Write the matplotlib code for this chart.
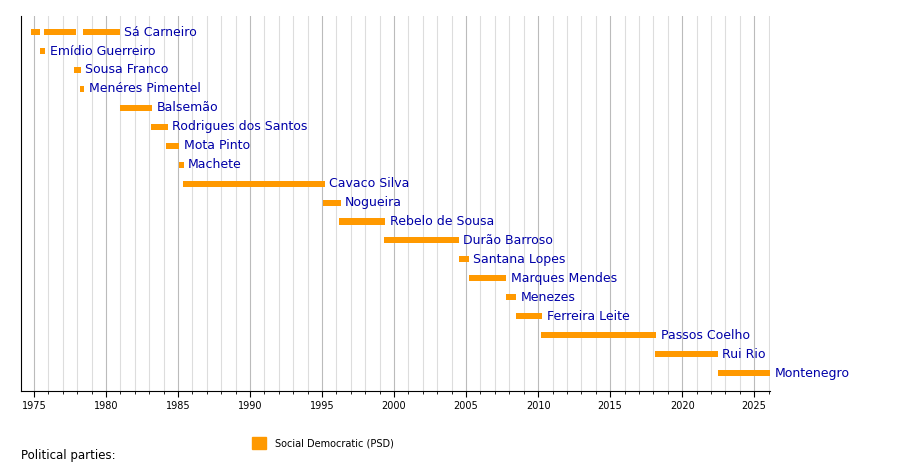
import matplotlib
matplotlib.use("Agg")
import matplotlib.pyplot as plt
from matplotlib.patches import Rectangle

names = ["Sá Carneiro", "Emídio Guerreiro", "Sousa Franco", "Menéres Pimentel", "Balsemão",
         "Rodrigues dos Santos", "Mota Pinto", "Machete", "Cavaco Silva", "Nogueira",
         "Rebelo de Sousa", "Durão Barroso", "Santana Lopes", "Marques Mendes", "Menezes",
         "Ferreira Leite", "Passos Coelho", "Rui Rio", "Montenegro"]
terms = [[(1974.8, 1975.45), (1975.7, 1977.9), (1978.4, 1980.95)],
         [(1975.4, 1975.8)], [(1977.8, 1978.25)], [(1978.2, 1978.5)],
         [(1980.95, 1983.2)], [(1983.1, 1984.3)], [(1984.2, 1985.1)], [(1985.05, 1985.4)],
         [(1985.35, 1995.2)], [(1995.05, 1996.3)], [(1996.2, 1999.4)], [(1999.3, 2004.5)],
         [(2004.5, 2005.2)], [(2005.2, 2007.8)], [(2007.8, 2008.5)], [(2008.5, 2010.3)],
         [(2010.2, 2018.2)], [(2018.1, 2022.5)], [(2022.5, 2026.1)]]
xticks = list(range(1975, 2026, 5))

orange = "#ff9900"
fig = plt.figure(figsize=(9, 4.7), dpi=100)
ax = fig.add_axes([21/900, 1-391/470, 749/900, 375/470])
ax.set_xlim(1974.1, 2026.1)
ax.set_ylim(len(names) - 1 + 0.95, -0.85)
for y in range(1975, 2027):
    ax.axvline(y, color="#bbbbbb" if y % 5 == 0 else "#dddddd", lw=0.8, zorder=0)
for i, (n, segs) in enumerate(zip(names, terms)):
    for a, b in segs:
        ax.barh(i, b - a, left=a, height=0.32, color=orange, zorder=2)
    ax.text(segs[-1][1] + 0.3, i, n, va="center", ha="left", fontsize=9, color="#0000a8")
ax.set_yticks([])
ax.set_xticks(xticks)
ax.set_xticks(range(1975, 2027), minor=True)
ax.tick_params(axis="x", labelsize=7, length=4)
ax.tick_params(axis="x", which="minor", length=2)
for s in ["top", "right"]:
    ax.spines[s].set_visible(False)
fig.text(21/900, 1-455/470, "Political parties:", fontsize=8.5, va="center")
fig.patches.append(Rectangle((252/900, 1-449/470), 14/900, 12/470, transform=fig.transFigure, color=orange))
fig.text(275/900, 1-444/470, "Social Democratic (PSD)", fontsize=7, va="center")
fig.savefig("out.png")
